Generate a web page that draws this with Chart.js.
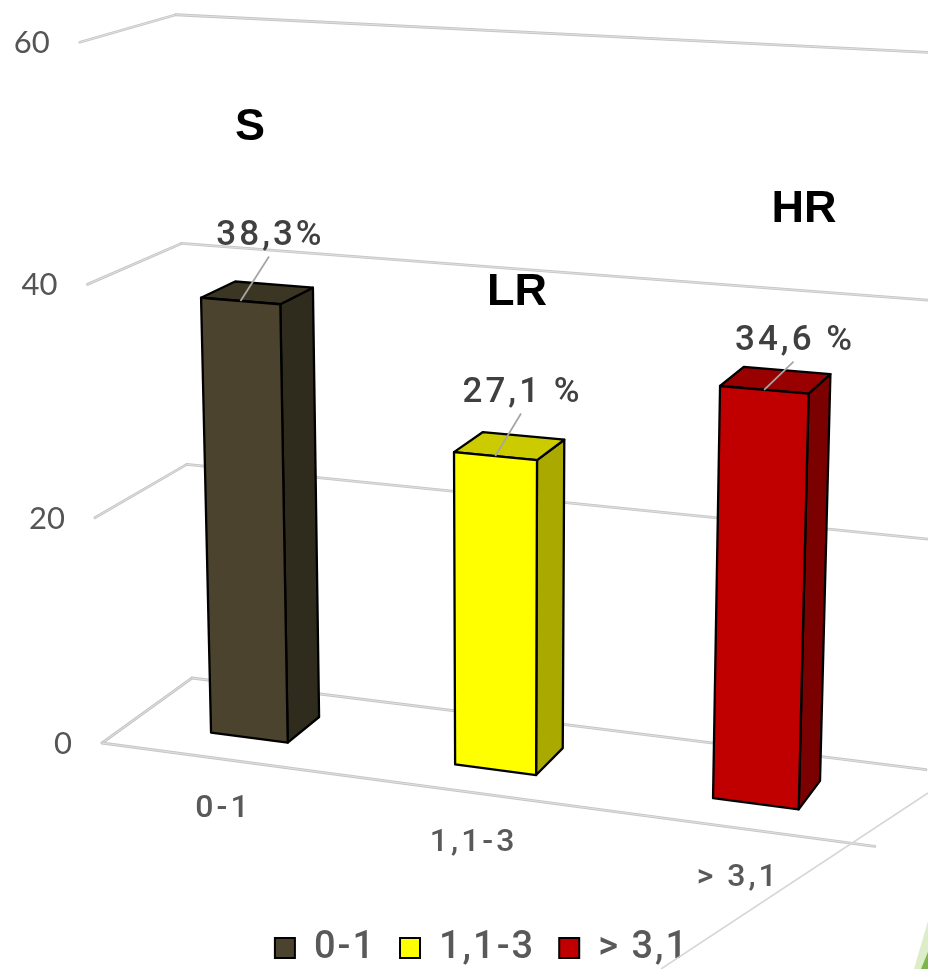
<!DOCTYPE html>
<html>
<head>
<meta charset="utf-8">
<script src="https://cdn.jsdelivr.net/npm/chart.js@4.4.1/dist/chart.umd.min.js"></script>
<style>
  html, body { margin: 0; padding: 0; background: #ffffff; overflow: hidden; }
  canvas { display: block; }
</style>
</head>
<body>
<canvas id="chart" width="928" height="969"></canvas>
<script>
// Risk score groups and the share of patients in each
const categories = ['0-1', '1,1-3', '> 3,1'];
const shares = [38.3, 27.1, 34.6];
const shareUnits = ['%', ' %', ' %'];
const riskGroups = ['S', 'LR', 'HR'];

// Box colours: front face, right side, top
const frontColors = ['#4b432d', '#ffff00', '#c00000'];
const sideColors = ['#2f2b1d', '#a9a900', '#7b0000'];
const topColors = ['#3b3524', '#cbcb00', '#990000'];

// Oblique 3-D view of the plot box: u runs along the categories, v up the
// value axis and d into the depth, each normalised to 0..1.
const view = {
  origin: [102, 743],
  ax: [701.9, 34.65, -0.08115],
  ay: [-26.43, -703.0, -0.05286],
  az: [101.32, -25.15, 0.05877]
};
function project(u, v, d) {
  const X = view.ax[0] * u + view.ay[0] * v + view.az[0] * d + view.origin[0];
  const Y = view.ax[1] * u + view.ay[1] * v + view.az[1] * d + view.origin[1];
  const W = view.ax[2] * u + view.ay[2] * v + view.az[2] * d + 1;
  return [X / W, Y / W];
}

function poly(ctx, pts, fill, stroke, lw) {
  ctx.beginPath();
  pts.forEach((p, i) => (i ? ctx.lineTo(p[0], p[1]) : ctx.moveTo(p[0], p[1])));
  ctx.closePath();
  if (fill) { ctx.fillStyle = fill; ctx.fill(); }
  if (stroke) { ctx.strokeStyle = stroke; ctx.lineWidth = lw; ctx.stroke(); }
}

function line(ctx, a, b) {
  ctx.beginPath();
  ctx.moveTo(a[0], a[1]);
  ctx.lineTo(b[0], b[1]);
  ctx.stroke();
}

// Text centred (or right-aligned) on the visual middle of its digits
function label(ctx, text, x, cy, opts) {
  ctx.save();
  ctx.font = opts.font;
  ctx.letterSpacing = (opts.spacing || 0) + 'px';
  ctx.fillStyle = opts.color;
  ctx.textAlign = 'left';
  ctx.textBaseline = 'alphabetic';
  const w = ctx.measureText(text).width - (opts.spacing || 0);
  const left = opts.align === 'right' ? x - w : x - w / 2;
  ctx.fillText(text, left, cy + 0.358 * opts.size);
  ctx.restore();
}

function gridStroke(ctx, a, b) {
  ctx.lineCap = 'round';
  ctx.strokeStyle = '#c6c6c6';
  ctx.lineWidth = 2.8;
  line(ctx, a, b);
  ctx.strokeStyle = '#e6e6e6';
  ctx.lineWidth = 0.8;
  line(ctx, a, b);
}

const perspectiveBars = {
  id: 'perspectiveBars',
  beforeLayout(chart) { chart.ctx.letterSpacing = '2px'; },
  beforeDraw(chart) { chart.ctx.letterSpacing = '2px'; },
  beforeDatasetsDraw(chart, args, opts) {
    const ctx = chart.ctx;
    const xs = chart.scales.x;
    const ys = chart.scales.y;
    const un = px => (px - xs.left) / xs.width;
    const vn = py => (ys.bottom - py) / ys.height;
    const [d0, d1] = opts.depth;

    ctx.save();
    ctx.letterSpacing = '0px';

    // Walls and floor
    ys.ticks.forEach(t => {
      const v = vn(ys.getPixelForValue(t.value));
      gridStroke(ctx, project(0, v, 0), project(0, v, 1));
      gridStroke(ctx, project(0, v, 1), project(1, v, 1));
    });
    gridStroke(ctx, project(0, 0, 0), project(1, 0, 0));

    // Boxes
    const meta = chart.getDatasetMeta(0);
    ctx.lineJoin = 'round';
    meta.data.forEach((el, i) => {
      const p = el.getProps(['x', 'y', 'base', 'width'], true);
      const uc = un(p.x);
      const hw = p.width / 2 / xs.width;
      const u0 = uc - hw, u1 = uc + hw;
      const vt = vn(p.y), vb = vn(p.base);
      const front = [project(u0, vb, d0), project(u1, vb, d0), project(u1, vt, d0), project(u0, vt, d0)];
      const side = [project(u1, vb, d0), project(u1, vb, d1), project(u1, vt, d1), project(u1, vt, d0)];
      const top = [project(u0, vt, d0), project(u1, vt, d0), project(u1, vt, d1), project(u0, vt, d1)];
      poly(ctx, side, sideColors[i], '#000000', 2.3);
      poly(ctx, top, topColors[i], '#000000', 2.3);
      poly(ctx, front, frontColors[i], '#000000', 2.3);

      // Value label with its leader line
      const anchor = project(uc, vt, d0);
      const nudge = opts.valueLabelNudge[i];
      const lx = anchor[0] + nudge[0], ly = anchor[1] + nudge[1];
      ctx.strokeStyle = '#a6a6a6';
      ctx.lineWidth = 1.8;
      ctx.lineCap = 'butt';
      line(ctx, [lx, ly + 24], anchor);
      const value = chart.data.datasets[0].data[i];
      const text = value.toFixed(1).replace('.', ',') + shareUnits[i];
      label(ctx, text, lx, ly, { font: '500 35px Roboto', size: 35, color: '#404040', spacing: 3 });
    });

    // Category labels under the front edge of the floor
    chart.data.labels.forEach((c, i) => {
      const pt = project(un(xs.getPixelForValue(i)), 0, 0);
      label(ctx, c, pt[0], pt[1] + 47, { font: '500 32px Roboto', size: 32, color: '#595959', spacing: 3 });
    });

    // Value axis labels at the front of the left wall
    ys.ticks.forEach(t => {
      const pt = project(0, vn(ys.getPixelForValue(t.value)), 0);
      label(ctx, t.label, pt[0] - 30, pt[1], { font: '31px Lato', size: 31, color: '#555555', align: 'right' });
    });

    // Risk group captions
    riskGroups.forEach((g, i) => {
      const at = opts.riskLabelAt[i];
      label(ctx, g, at[0], at[1], { font: 'bold 45px "Liberation Sans", Arial, sans-serif', size: 45, color: '#000000' });
    });

    ctx.restore();
    return false;
  },
  afterDraw(chart) {
    const ctx = chart.ctx;
    ctx.save();
    // Slide ornament in the lower right corner
    ctx.strokeStyle = '#d6d6d6';
    ctx.lineWidth = 1.5;
    line(ctx, [928, 793], [661, 969]);
    poly(ctx, [[914, 969], [928, 921], [928, 969]], '#dcedc8');
    poly(ctx, [[921, 969], [928, 952], [928, 969]], '#7ab648');
    ctx.restore();
  }
};

new Chart(document.getElementById('chart'), {
  type: 'bar',
  data: {
    labels: categories,
    datasets: [{
      label: 'Share of patients',
      data: shares,
      backgroundColor: frontColors,
      borderColor: '#000000',
      borderWidth: 2,
      barPercentage: 0.32,
      categoryPercentage: 1
    }]
  },
  options: {
    responsive: false,
    animation: false,
    devicePixelRatio: 1,
    layout: { padding: { left: 36, right: 0, top: 0, bottom: -8 } },
    scales: {
      x: { grid: { display: false }, border: { display: false }, ticks: { display: false } },
      y: {
        min: 0, max: 60,
        grid: { display: false }, border: { display: false },
        ticks: { stepSize: 20, display: false }
      }
    },
    plugins: {
      tooltip: { enabled: false },
      legend: {
        position: 'bottom',
        labels: {
          boxWidth: 20,
          boxHeight: 20,
          padding: 24,
          color: '#595959',
          font: { family: 'Roboto', size: 38, weight: '500' },
          generateLabels: chart => chart.data.labels.map((c, i) => ({
            text: c,
            fillStyle: frontColors[i],
            strokeStyle: '#000000',
            lineWidth: 2,
            fontColor: '#595959',
            hidden: false,
            index: i
          }))
        }
      },
      perspectiveBars: {
        depth: [0.31, 0.69],
        valueLabelNudge: [[28.5, -68.4], [25.7, -66.6], [29.4, -52.3]],
        riskLabelAt: [[250, 124], [517, 289], [804, 206]]
      }
    }
  },
  plugins: [perspectiveBars]
});
</script>
</body>
</html>
